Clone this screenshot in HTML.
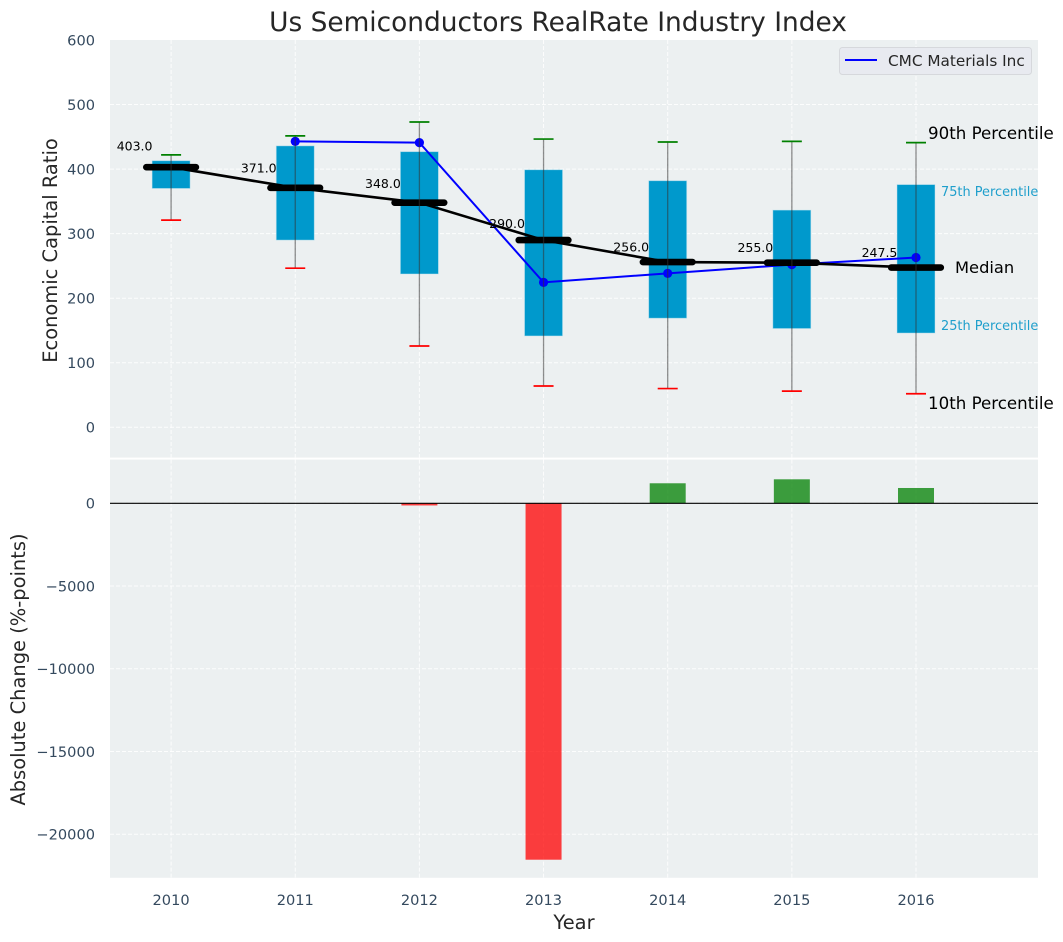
<!DOCTYPE html>
<html>
<head>
<meta charset="utf-8">
<title>Us Semiconductors RealRate Industry Index</title>
<style>
html,body{margin:0;padding:0;background:#fff;width:1063px;height:942px;overflow:hidden}
svg{display:block;font-family:"DejaVu Sans","Liberation Sans",sans-serif}
</style>
</head>
<body>
<svg id="chart" width="1063" height="942" viewBox="0 0 1063 942" xmlns="http://www.w3.org/2000/svg">
  <rect x="0" y="0" width="1063" height="942" fill="#ffffff"/>
  <rect x="110" y="40" width="928" height="417.6" fill="#ecf0f1"/>
  <rect x="110" y="459.6" width="928" height="418.2" fill="#ecf0f1"/>
  <g id="grid"></g>
  <g id="marks"></g>
  <g id="labels"></g>
  <text x="558" y="31" font-size="26.4" text-anchor="middle" fill="#262626">Us Semiconductors RealRate Industry Index</text>
  <text transform="translate(57,250.5) rotate(-90)" font-size="19.44" text-anchor="middle" fill="#262626">Economic Capital Ratio</text>
  <text transform="translate(25,669.5) rotate(-90)" font-size="19.44" text-anchor="middle" fill="#262626">Absolute Change (%-points)</text>
  <text x="574" y="929" font-size="19.44" text-anchor="middle" fill="#262626">Year</text>
  <text x="928" y="139" font-size="16.67" fill="#000000">90th Percentile</text>
  <text x="941" y="196" font-size="12.9" fill="#1f9fcc">75th Percentile</text>
  <text x="955" y="273" font-size="16.3" fill="#000000">Median</text>
  <text x="941" y="330" font-size="12.9" fill="#1f9fcc">25th Percentile</text>
  <text x="928" y="409" font-size="16.67" fill="#000000">10th Percentile</text>
  <g>
    <rect x="839.5" y="47.5" width="192" height="27" rx="3" fill="#e8eaf0" stroke="#d6d8dc" stroke-width="1"/>
    <line x1="845" y1="60" x2="877" y2="60" stroke="#0000ff" stroke-width="2"/>
    <text x="888" y="66" font-size="15.28" fill="#262626">CMC Materials Inc</text>
  </g>
</svg>
<script>
const years = [2010, 2011, 2012, 2013, 2014, 2015, 2016];
const p90 = [422, 451.5, 473, 446.5, 442, 443, 441];
const p75 = [413, 436, 427, 399, 382, 336.5, 376];
const medians = [403, 371, 348, 290, 256, 255, 247.5];
const p25 = [370, 290, 237.5, 141.5, 169, 153, 146];
const p10 = [321, 246.5, 126, 64, 60, 56, 52];
const cmc = [null, 443, 441, 224.5, 238.5, 252, 263];
const change = [0, 0, -130, -21535, 1210, 1450, 925];
const topTicks = [0, 100, 200, 300, 400, 500, 600];
const bottomTicks = [0, -5000, -10000, -15000, -20000];

const PANEL_LEFT = 110, PANEL_RIGHT = 1038;
const TOP_PANEL_TOP = 40, TOP_PANEL_BOTTOM = 457.6;
const BOTTOM_PANEL_TOP = 459.6, BOTTOM_PANEL_BOTTOM = 877.8;
const NS = 'http://www.w3.org/2000/svg';

function xPos(year) { return 171.1 + (year - 2010) * 124.15; }
function yTop(v) { return 427.3 - v * 0.6455; }
function yBottom(v) { return 503.3 - v * 0.01655; }

function mk(parent, tag, attrs, text) {
  const el = document.createElementNS(NS, tag);
  for (const k in attrs) el.setAttribute(k, attrs[k]);
  if (text !== undefined) el.textContent = text;
  parent.appendChild(el);
  return el;
}

const grid = document.getElementById('grid');
const marks = document.getElementById('marks');
const labels = document.getElementById('labels');
const gridStyle = { stroke: '#ffffff', 'stroke-width': 1, 'stroke-dasharray': '4 2', 'stroke-opacity': 0.85 };

years.forEach(function (yr) {
  const x = xPos(yr);
  const a = mk(grid, 'line', Object.assign({ x1: x, x2: x, y1: TOP_PANEL_TOP, y2: TOP_PANEL_BOTTOM }, gridStyle));
  
  
  const b = mk(grid, 'line', Object.assign({ x1: x, x2: x, y1: BOTTOM_PANEL_TOP, y2: BOTTOM_PANEL_BOTTOM }, gridStyle));
  
  
  const t = mk(labels, 'text', { x: x, y: 905, 'font-size': 14.58, 'text-anchor': 'middle', fill: '#34495e' }, String(yr));
  
  
});

topTicks.forEach(function (v) {
  const y = yTop(v);
  if (v < 600) {
    const g = mk(grid, 'line', Object.assign({ x1: PANEL_LEFT, x2: PANEL_RIGHT, y1: y, y2: y }, gridStyle));
    
    
  }
  const t = mk(labels, 'text', { x: 95, y: y + 5.3, 'font-size': 14.58, 'text-anchor': 'end', fill: '#34495e' }, String(v));
  
  
});

bottomTicks.forEach(function (v) {
  const y = yBottom(v);
  const g = mk(grid, 'line', Object.assign({ x1: PANEL_LEFT, x2: PANEL_RIGHT, y1: y, y2: y }, gridStyle));
  
  
  const t = mk(labels, 'text', { x: 95, y: y + 5.3, 'font-size': 14.58, 'text-anchor': 'end', fill: '#34495e' }, String(v).replace('-', '\u2212'));
  
  
});

/* interquartile boxes */
years.forEach(function (yr, i) {
  const x = xPos(yr);
  const r = mk(marks, 'rect', { x: x - 19, y: yTop(p75[i]), width: 38, height: yTop(p25[i]) - yTop(p75[i]), fill: '#0099cc', stroke: '#bfe3ee', 'stroke-opacity': 0.6, 'stroke-width': 0.8 });
  
  
});

/* CMC Materials series */
const cmcPoints = [];
years.forEach(function (yr, i) {
  if (cmc[i] !== null) cmcPoints.push(xPos(yr) + ',' + yTop(cmc[i]));
});
const cmcLine = mk(marks, 'polyline', { points: cmcPoints.join(' '), fill: 'none', stroke: '#0000ff', 'stroke-width': 2 });


years.forEach(function (yr, i) {
  if (cmc[i] === null) return;
  const c = mk(marks, 'circle', { cx: xPos(yr), cy: yTop(cmc[i]), r: 4.6, fill: '#0000ff' });
  
  
});

/* median trend line and thick markers */
const medianLine = mk(marks, 'polyline', { points: years.map(function (yr, i) { return xPos(yr) + ',' + yTop(medians[i]); }).join(' '), fill: 'none', stroke: '#000000', 'stroke-width': 2.6 });



years.forEach(function (yr, i) {
  const x = xPos(yr);
  const m = mk(marks, 'line', { x1: x - 24.8, x2: x + 24.8, y1: yTop(medians[i]), y2: yTop(medians[i]), stroke: '#000000', 'stroke-width': 6.6, 'stroke-linecap': 'round' });
  
  
  const w = mk(marks, 'line', { x1: x, x2: x, y1: yTop(p90[i]), y2: yTop(p10[i]), stroke: '#333333', 'stroke-opacity': 0.55, 'stroke-width': 1.3 });
  
  
  const hi = mk(marks, 'line', { x1: x - 10, x2: x + 10, y1: yTop(p90[i]), y2: yTop(p90[i]), stroke: '#008000', 'stroke-width': 1.7 });
  
  
  const lo = mk(marks, 'line', { x1: x - 10, x2: x + 10, y1: yTop(p10[i]), y2: yTop(p10[i]), stroke: '#ff0000', 'stroke-width': 1.7 });
  
  
  const t = mk(marks, 'text', { x: x - 18.6, y: yTop(medians[i] * 1.065), 'font-size': 12.5, 'text-anchor': 'end', fill: '#000000' }, medians[i].toFixed(1));
  
  
});

/* absolute change bars */
years.forEach(function (yr, i) {
  if (change[i] === 0) return;
  const y0 = yBottom(0), y1 = yBottom(change[i]);
  const b = mk(marks, 'rect', { x: xPos(yr) - 18, y: Math.min(y0, y1), width: 36, height: Math.abs(y1 - y0), fill: change[i] < 0 ? '#ff0000' : '#008000', 'fill-opacity': 0.75 });
  
  
});
const zero = mk(marks, 'line', { x1: PANEL_LEFT, x2: PANEL_RIGHT, y1: yBottom(0), y2: yBottom(0), stroke: '#000000', 'stroke-width': 1.2 });


</script>
</body>
</html>
